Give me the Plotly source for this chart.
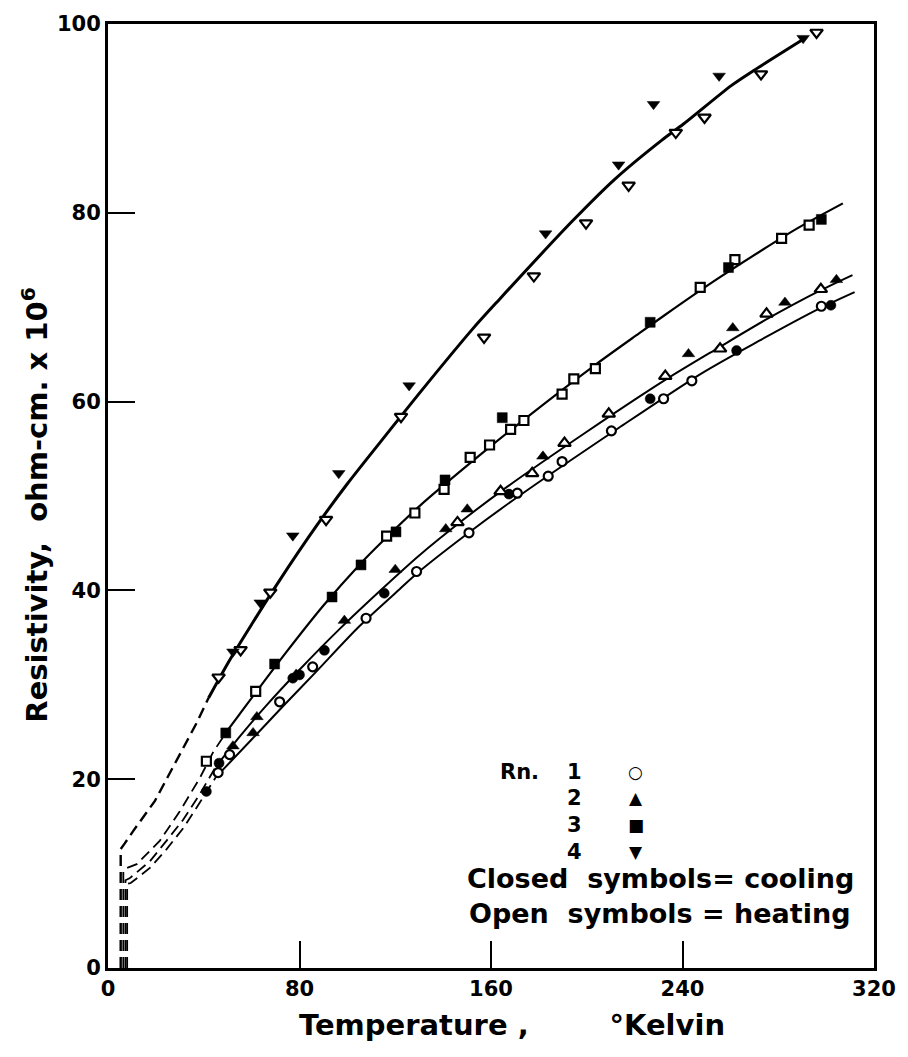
import plotly.graph_objects as go

# ---------------- data ----------------
# Run 1 (circles)
run1_open_T = [46.0, 50.8, 71.7, 85.5, 107.8, 128.9, 150.8, 171.0, 183.9, 189.7, 210.3, 232.1, 243.9, 298.0]
run1_open_R = [20.7, 22.6, 28.2, 31.9, 37.05, 42.0, 46.1, 50.3, 52.1, 53.65, 56.9, 60.3, 62.2, 70.1]
run1_closed_T = [41.1, 46.4, 77.2, 80.0, 90.4, 115.4, 167.5, 226.5, 262.6, 302.0]
run1_closed_R = [18.7, 21.7, 30.7, 31.05, 33.65, 39.7, 50.2, 60.3, 65.4, 70.2]

# Run 2 (triangles up)
run2_open_T = [146.0, 164.0, 177.2, 190.7, 209.2, 232.8, 255.7, 275.1, 297.8]
run2_open_R = [47.2, 50.5, 52.4, 55.6, 58.7, 62.7, 65.6, 69.3, 71.9]
run2_closed_T = [52.2, 60.6, 62.2, 78.6, 98.75, 120.0, 141.1, 150.1, 181.7, 242.5, 261.0, 282.8, 304.3]
run2_closed_R = [23.5, 24.9, 26.6, 31.1, 36.8, 42.2, 46.5, 48.6, 54.2, 65.05, 67.8, 70.5, 72.9]

# Run 3 (squares)
run3_open_T = [41.1, 61.7, 116.4, 128.2, 140.4, 151.3, 159.4, 168.2, 173.75, 189.7, 194.6, 203.6, 247.4, 261.9, 281.4, 292.9]
run3_open_R = [21.9, 29.3, 45.75, 48.2, 50.7, 54.1, 55.4, 57.05, 58.0, 60.8, 62.4, 63.5, 72.1, 75.05, 77.3, 78.7]
run3_closed_T = [49.2, 69.6, 93.6, 105.7, 120.3, 140.8, 164.7, 226.5, 259.2, 298.0]
run3_closed_R = [24.9, 32.2, 39.3, 42.7, 46.2, 51.7, 58.3, 68.4, 74.2, 79.3]

# Run 4 (triangles down)
run4_open_T = [46.2, 55.4, 67.8, 91.1, 122.4, 157.1, 177.9, 199.7, 217.5, 237.2, 249.2, 272.8, 296.0]
run4_open_R = [30.8, 33.7, 39.8, 47.5, 58.4, 66.8, 73.3, 78.9, 82.9, 88.5, 90.1, 94.7, 99.1]
run4_closed_T = [52.2, 63.6, 77.2, 96.4, 125.8, 182.8, 213.3, 227.9, 255.3, 290.4]
run4_closed_R = [33.5, 38.7, 45.8, 52.4, 61.7, 77.8, 85.1, 91.5, 94.5, 98.5]

# Smooth curves (solid) and low-temperature extrapolations (dashed)
curve1_T = [45, 60, 73, 87, 105, 121.7, 130, 152.2, 171.7, 213.3, 248, 271.7, 296.7, 311.9]
curve1_R = [20.2, 24.2, 27.7, 31.4, 36.2, 40.1, 42.0, 46.4, 50.0, 57.2, 63.0, 66.4, 69.8, 71.6]
dash1_T = [8.0, 8.0, 9.5, 17.5, 24.5, 31.4, 38.3, 45]
dash1_R = [0.0, 8.9, 9.0, 10.6, 12.6, 14.8, 17.5, 20.2]

curve2_T = [45, 55, 66.1, 80, 96.7, 114.7, 130, 148, 164.7, 199.4, 232.8, 255, 275, 297, 311]
curve2_R = [21.3, 24.5, 27.8, 31.6, 35.9, 40.2, 43.7, 47.4, 50.6, 56.7, 62.3, 65.7, 68.7, 71.7, 73.4]
dash2_T = [7.3, 7.3, 9.0, 17.5, 24.5, 31.4, 38.3, 45]
dash2_R = [0.0, 9.3, 9.5, 11.3, 13.5, 15.7, 18.4, 21.3]

curve3_T = [50, 55, 74, 90, 105, 114.7, 130, 155.7, 175.8, 203.6, 221.7, 232.8, 252.2, 271.7, 288.3, 307]
curve3_R = [25.2, 26.9, 33.3, 38.4, 42.7, 45.2, 48.9, 54.4, 58.5, 63.9, 67.2, 69.2, 72.6, 75.8, 78.4, 81.0]
dash3_T = [6.4, 6.4, 8.0, 12.0, 21.7, 30.0, 38.3, 44.0, 50]
dash3_R = [0.0, 10.3, 10.6, 11.0, 13.5, 16.6, 20.1, 22.9, 25.2]

curve4_T = [42, 50.8, 60.5, 71, 87, 100, 117.5, 131.4, 152, 163.4, 193.9, 211.9, 231.4, 240.4, 260.5, 269.6, 291.8]
curve4_R = [28.6, 32.6, 36.6, 40.8, 46.8, 51.3, 56.9, 61.3, 67.6, 70.8, 79.1, 83.6, 87.7, 89.4, 93.5, 95.05, 98.6]
dash4_T = [5.3, 5.3, 7.0, 10.5, 19.6, 28.6, 36.9, 42]
dash4_R = [0.0, 12.6, 13.2, 14.5, 17.7, 21.9, 25.9, 28.6]

x_ticks = [0, 80, 160, 240, 320]
y_ticks = [0, 20, 40, 60, 80, 100]

# ---------------- figure ----------------
fig = go.Figure()
INK = "black"

curves = [
    (curve1_T, curve1_R, dash1_T, dash1_R, 2, 1.8),
    (curve2_T, curve2_R, dash2_T, dash2_R, 2, 1.8),
    (curve3_T, curve3_R, dash3_T, dash3_R, 2.2, 1.8),
    (curve4_T, curve4_R, dash4_T, dash4_R, 3, 2.4),
]
for cT, cR, dT, dR, w, dw in curves:
    fig.add_trace(go.Scatter(x=dT, y=dR, mode="lines", line=dict(color=INK, width=dw, dash="11px,6px"),
                             hoverinfo="skip", showlegend=False))
    fig.add_trace(go.Scatter(x=cT, y=cR, mode="lines", line=dict(color=INK, width=w, shape="spline", smoothing=0.8),
                             hoverinfo="skip", showlegend=False))

series = [
    (run1_open_T, run1_open_R, "circle", True, 9),
    (run1_closed_T, run1_closed_R, "circle", False, 10),
    (run2_open_T, run2_open_R, "triangle-up", True, 11),
    (run2_closed_T, run2_closed_R, "triangle-up", False, 11),
    (run3_open_T, run3_open_R, "square", True, 9),
    (run3_closed_T, run3_closed_R, "square", False, 10),
    (run4_open_T, run4_open_R, "triangle-down", True, 11),
    (run4_closed_T, run4_closed_R, "triangle-down", False, 11),
]
for T, R, sym, is_open, size in series:
    fig.add_trace(go.Scatter(
        x=T, y=R, mode="markers", showlegend=False,
        marker=dict(symbol=sym, size=size,
                    color="white" if is_open else INK,
                    line=dict(color=INK, width=2.2 if is_open else 0.5)),
    ))

FONT = "DejaVu Sans"
lab = dict(family=FONT, size=21, color=INK, weight="bold")
anns = [
    ("Rn.", 172, 20.8), ("1", 195, 20.8), ("2", 195, 18.0), ("3", 195, 15.2), ("4", 195, 12.3),
]
for txt, x, y in anns:
    fig.add_annotation(x=x, y=y, text=txt, showarrow=False, font=lab, xref="x", yref="y")
sym_anns = [("○", 20.8), ("▲", 18.0), ("■", 15.2), ("▼", 12.3)]
for txt, y in sym_anns:
    fig.add_annotation(x=220.5, y=y, text=txt, showarrow=False, font=dict(family=FONT, size=17, color=INK, weight="bold"),
                       xref="x", yref="y")
fig.add_annotation(x=231, y=9.5, text="Closed&nbsp;&nbsp;symbols= cooling", showarrow=False,
                   font=dict(family=FONT, size=27, color=INK, weight="bold"), xref="x", yref="y")
fig.add_annotation(x=230.5, y=5.8, text="Open&nbsp;&nbsp;symbols = heating", showarrow=False,
                   font=dict(family=FONT, size=27, color=INK, weight="bold"), xref="x", yref="y")

# axis titles
fig.add_annotation(x=0.527, y=-0.06, xref="paper", yref="paper", xanchor="center", yanchor="middle",
                   text="Temperature ,&nbsp;&nbsp;&nbsp;&nbsp;&nbsp;&nbsp;&nbsp;&nbsp;°Kelvin", showarrow=False,
                   font=dict(family=FONT, size=29, color=INK, weight="bold"))
fig.add_annotation(x=-0.095, y=0.49, xref="paper", yref="paper", xanchor="center", yanchor="middle",
                   textangle=-90,
                   text="Resistivity,&nbsp;&nbsp;ohm-cm. x 10<sup>6</sup>", showarrow=False,
                   font=dict(family=FONT, size=29, color=INK, weight="bold"))

axis_common = dict(showline=True, linewidth=3, linecolor=INK, mirror=True, ticks="inside",
                   ticklen=27, tickwidth=2, tickcolor=INK, showgrid=False, zeroline=False,
                   tickfont=dict(family=FONT, size=21, color=INK, weight="bold"))
fig.update_xaxes(range=[0, 320], tickvals=x_ticks, ticktext=[str(v) for v in x_ticks], **axis_common)
fig.update_yaxes(range=[0, 100], tickvals=y_ticks, ticktext=[str(v) for v in y_ticks], **axis_common)

fig.update_layout(width=908, height=1057, margin=dict(l=108, r=32, t=18, b=89),
                  plot_bgcolor="white", paper_bgcolor="white", showlegend=False)

fig.write_html("out.html")
